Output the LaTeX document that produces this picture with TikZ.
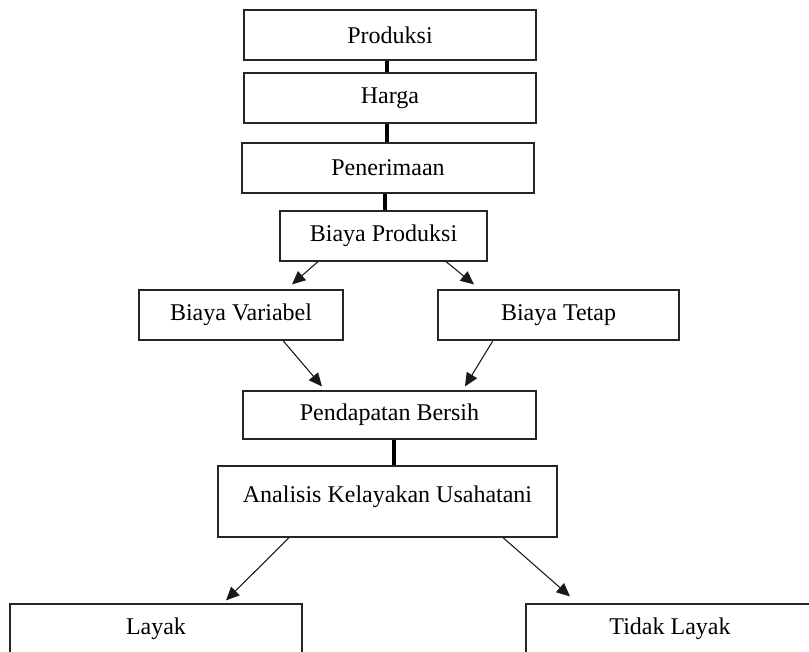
\documentclass[tikz,border=0pt]{standalone}
\usepackage{fontspec}
\setmainfont{Liberation Serif}
\usetikzlibrary{arrows.meta,calc}
\tikzset{
  box/.style={draw=black!85, line width=0.9pt, rectangle, inner sep=0pt,
    minimum height=50*0.75pt, font=\fontsize{18}{20}\selectfont},
  link/.style={draw=black, line width=2.3pt},
  arr/.style={draw=black!90, line width=0.8pt, -{Triangle[length=10pt,width=9pt]}}
}
\begin{document}
\begin{tikzpicture}[x=0.75pt,y=-0.75pt]
\useasboundingbox (0,0) rectangle (809,652);
\clip (0,0) rectangle (809,652);
\fill[white] (0,0) rectangle (809,652);
\node[box, minimum width=292*0.75pt] (prod) at (390,35) {Produksi};
\node[box, minimum width=292*0.75pt] (harga) at (390,98) {Harga};
\node[box, minimum width=292*0.75pt] (pen) at (388,168) {Penerimaan};
\node[box, minimum width=207*0.75pt] (bp) at (383.5,236) {Biaya Produksi};
\node[box, minimum width=204*0.75pt] (bv) at (241,315) {Biaya Variabel};
\node[box, minimum width=241*0.75pt] (bt) at (558.5,315) {Biaya Tetap};
\node[box, minimum width=293*0.75pt, minimum height=48*0.75pt] (pb) at (389.5,415) {Pendapatan Bersih};
\node[box, minimum width=339*0.75pt, minimum height=71*0.75pt] (an) at (387.5,501.5) {};
\node[font=\fontsize{18}{20}\selectfont] (antext) at (387.5,497) {Analisis Kelayakan Usahatani};
\node[box, minimum width=292*0.75pt] (ly) at (156,629) {Layak};
\node[box, minimum width=288*0.75pt] (tl) at (670,629) {Tidak Layak};

\draw[link] ($(prod.south)+(-3,0)$) -- ($(harga.north)+(-3,0)$);
\draw[link] ($(harga.south)+(-3,0)$) -- ($(pen.north)+(-1,0)$);
\draw[link] ($(pen.south)+(-3,0)$) -- ($(bp.north)+(1.5,0)$);
\draw[link] ($(pb.south)+(4.5,0)$) -- ($(an.north)+(6.5,0)$);

\draw[arr] ($(bp.south)+(-65.5,0)$) -- ($(bv.north)+(51,-5)$);
\draw[arr] ($(bp.south)+(62.5,0)$) -- ($(bt.north)+(-84.5,-5)$);
\draw[arr] ($(bv.south)+(42,0)$) -- ($(pb.north)+(-67.5,-4)$);
\draw[arr] ($(bt.south)+(-65.5,0)$) -- ($(pb.north)+(75.5,-4)$);
\draw[arr] ($(an.south)+(-98.5,0)$) -- ($(ly.north)+(70,-3)$);
\draw[arr] ($(an.south)+(115.5,0)$) -- ($(tl.north)+(-100,-7)$);
\end{tikzpicture}
\end{document}
